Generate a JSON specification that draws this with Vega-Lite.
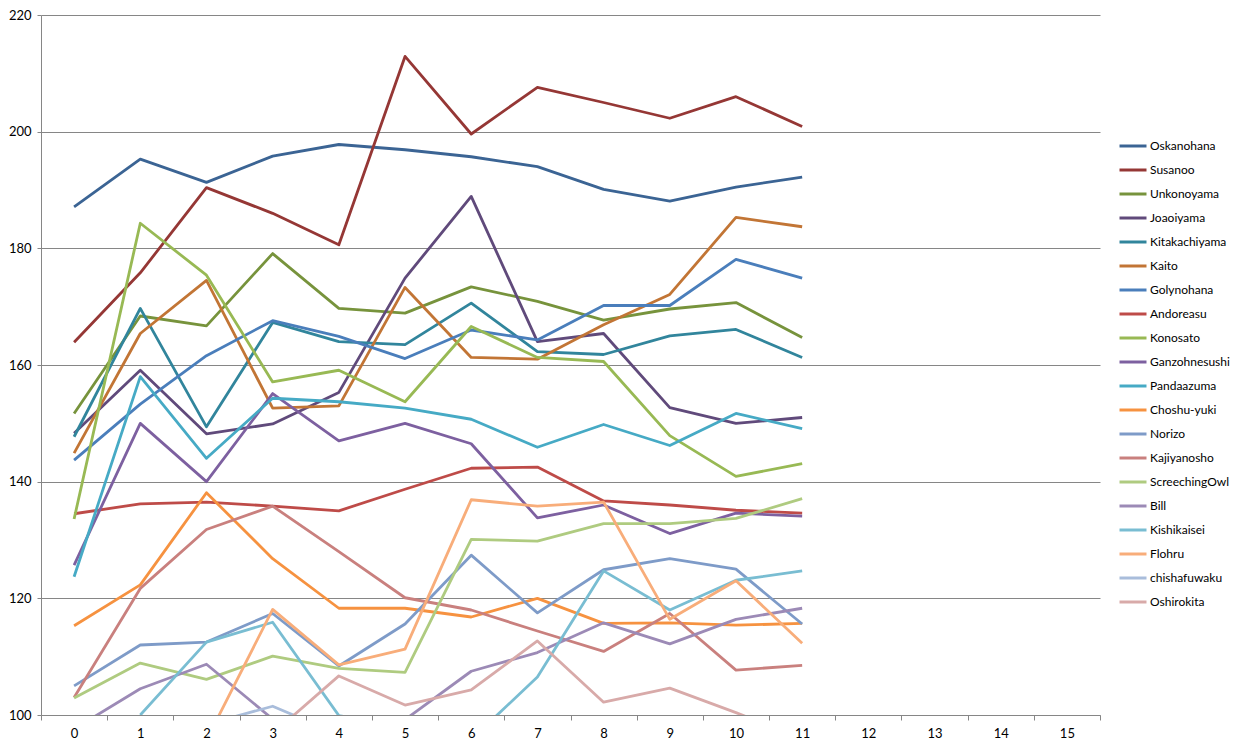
{
  "$schema": "https://vega.github.io/schema/vega-lite/v6.json",
  "width": 1059,
  "height": 700,
  "autosize": "none",
  "padding": {"left": 41, "top": 15, "right": 144, "bottom": 34},
  "background": "white",
  "config": {
    "view": {"stroke": null},
    "font": "Lato",
    "axis": {"labelFont": "Lato", "labelColor": "#000000", "labelFontSize": 13, "title": null}
  },
  "data": {
    "values": [
      {"s": "Oskanohana", "x": 0, "v": 187.1}, {"s": "Oskanohana", "x": 1, "v": 195.3}, {"s": "Oskanohana", "x": 2, "v": 191.3}, {"s": "Oskanohana", "x": 3, "v": 195.8}, {"s": "Oskanohana", "x": 4, "v": 197.8}, {"s": "Oskanohana", "x": 5, "v": 196.9}, {"s": "Oskanohana", "x": 6, "v": 195.7}, {"s": "Oskanohana", "x": 7, "v": 194.0}, {"s": "Oskanohana", "x": 8, "v": 190.1}, {"s": "Oskanohana", "x": 9, "v": 188.1}, {"s": "Oskanohana", "x": 10, "v": 190.5}, {"s": "Oskanohana", "x": 11, "v": 192.2},
      {"s": "Susanoo", "x": 0, "v": 163.9}, {"s": "Susanoo", "x": 1, "v": 175.8}, {"s": "Susanoo", "x": 2, "v": 190.4}, {"s": "Susanoo", "x": 3, "v": 186.0}, {"s": "Susanoo", "x": 4, "v": 180.6}, {"s": "Susanoo", "x": 5, "v": 212.9}, {"s": "Susanoo", "x": 6, "v": 199.6}, {"s": "Susanoo", "x": 7, "v": 207.6}, {"s": "Susanoo", "x": 8, "v": 205.0}, {"s": "Susanoo", "x": 9, "v": 202.3}, {"s": "Susanoo", "x": 10, "v": 206.0}, {"s": "Susanoo", "x": 11, "v": 200.9},
      {"s": "Unkonoyama", "x": 0, "v": 151.7}, {"s": "Unkonoyama", "x": 1, "v": 168.4}, {"s": "Unkonoyama", "x": 2, "v": 166.7}, {"s": "Unkonoyama", "x": 3, "v": 179.1}, {"s": "Unkonoyama", "x": 4, "v": 169.7}, {"s": "Unkonoyama", "x": 5, "v": 168.9}, {"s": "Unkonoyama", "x": 6, "v": 173.4}, {"s": "Unkonoyama", "x": 7, "v": 170.9}, {"s": "Unkonoyama", "x": 8, "v": 167.7}, {"s": "Unkonoyama", "x": 9, "v": 169.6}, {"s": "Unkonoyama", "x": 10, "v": 170.7}, {"s": "Unkonoyama", "x": 11, "v": 164.7},
      {"s": "Joaoiyama", "x": 0, "v": 148.3}, {"s": "Joaoiyama", "x": 1, "v": 159.1}, {"s": "Joaoiyama", "x": 2, "v": 148.2}, {"s": "Joaoiyama", "x": 3, "v": 149.9}, {"s": "Joaoiyama", "x": 4, "v": 155.3}, {"s": "Joaoiyama", "x": 5, "v": 174.9}, {"s": "Joaoiyama", "x": 6, "v": 188.9}, {"s": "Joaoiyama", "x": 7, "v": 164.0}, {"s": "Joaoiyama", "x": 8, "v": 165.4}, {"s": "Joaoiyama", "x": 9, "v": 152.7}, {"s": "Joaoiyama", "x": 10, "v": 150.0}, {"s": "Joaoiyama", "x": 11, "v": 151.0},
      {"s": "Kitakachiyama", "x": 0, "v": 147.7}, {"s": "Kitakachiyama", "x": 1, "v": 169.7}, {"s": "Kitakachiyama", "x": 2, "v": 149.4}, {"s": "Kitakachiyama", "x": 3, "v": 167.3}, {"s": "Kitakachiyama", "x": 4, "v": 164.0}, {"s": "Kitakachiyama", "x": 5, "v": 163.5}, {"s": "Kitakachiyama", "x": 6, "v": 170.6}, {"s": "Kitakachiyama", "x": 7, "v": 162.3}, {"s": "Kitakachiyama", "x": 8, "v": 161.8}, {"s": "Kitakachiyama", "x": 9, "v": 165.0}, {"s": "Kitakachiyama", "x": 10, "v": 166.1}, {"s": "Kitakachiyama", "x": 11, "v": 161.3},
      {"s": "Kaito", "x": 0, "v": 144.9}, {"s": "Kaito", "x": 1, "v": 165.4}, {"s": "Kaito", "x": 2, "v": 174.5}, {"s": "Kaito", "x": 3, "v": 152.6}, {"s": "Kaito", "x": 4, "v": 153.0}, {"s": "Kaito", "x": 5, "v": 173.3}, {"s": "Kaito", "x": 6, "v": 161.3}, {"s": "Kaito", "x": 7, "v": 161.0}, {"s": "Kaito", "x": 8, "v": 166.9}, {"s": "Kaito", "x": 9, "v": 172.1}, {"s": "Kaito", "x": 10, "v": 185.3}, {"s": "Kaito", "x": 11, "v": 183.7},
      {"s": "Golynohana", "x": 0, "v": 143.7}, {"s": "Golynohana", "x": 1, "v": 153.3}, {"s": "Golynohana", "x": 2, "v": 161.6}, {"s": "Golynohana", "x": 3, "v": 167.6}, {"s": "Golynohana", "x": 4, "v": 164.9}, {"s": "Golynohana", "x": 5, "v": 161.1}, {"s": "Golynohana", "x": 6, "v": 166.0}, {"s": "Golynohana", "x": 7, "v": 164.3}, {"s": "Golynohana", "x": 8, "v": 170.2}, {"s": "Golynohana", "x": 9, "v": 170.2}, {"s": "Golynohana", "x": 10, "v": 178.1}, {"s": "Golynohana", "x": 11, "v": 174.9},
      {"s": "Andoreasu", "x": 0, "v": 134.5}, {"s": "Andoreasu", "x": 1, "v": 136.2}, {"s": "Andoreasu", "x": 2, "v": 136.5}, {"s": "Andoreasu", "x": 3, "v": 135.8}, {"s": "Andoreasu", "x": 4, "v": 135.0}, {"s": "Andoreasu", "x": 5, "v": 138.7}, {"s": "Andoreasu", "x": 6, "v": 142.3}, {"s": "Andoreasu", "x": 7, "v": 142.5}, {"s": "Andoreasu", "x": 8, "v": 136.7}, {"s": "Andoreasu", "x": 9, "v": 136.0}, {"s": "Andoreasu", "x": 10, "v": 135.1}, {"s": "Andoreasu", "x": 11, "v": 134.6},
      {"s": "Konosato", "x": 0, "v": 133.6}, {"s": "Konosato", "x": 1, "v": 184.3}, {"s": "Konosato", "x": 2, "v": 175.4}, {"s": "Konosato", "x": 3, "v": 157.1}, {"s": "Konosato", "x": 4, "v": 159.1}, {"s": "Konosato", "x": 5, "v": 153.7}, {"s": "Konosato", "x": 6, "v": 166.6}, {"s": "Konosato", "x": 7, "v": 161.3}, {"s": "Konosato", "x": 8, "v": 160.6}, {"s": "Konosato", "x": 9, "v": 147.9}, {"s": "Konosato", "x": 10, "v": 140.9}, {"s": "Konosato", "x": 11, "v": 143.1},
      {"s": "Ganzohnesushi", "x": 0, "v": 125.7}, {"s": "Ganzohnesushi", "x": 1, "v": 150.0}, {"s": "Ganzohnesushi", "x": 2, "v": 140.0}, {"s": "Ganzohnesushi", "x": 3, "v": 155.1}, {"s": "Ganzohnesushi", "x": 4, "v": 147.0}, {"s": "Ganzohnesushi", "x": 5, "v": 150.0}, {"s": "Ganzohnesushi", "x": 6, "v": 146.5}, {"s": "Ganzohnesushi", "x": 7, "v": 133.8}, {"s": "Ganzohnesushi", "x": 8, "v": 136.0}, {"s": "Ganzohnesushi", "x": 9, "v": 131.1}, {"s": "Ganzohnesushi", "x": 10, "v": 134.6}, {"s": "Ganzohnesushi", "x": 11, "v": 134.1},
      {"s": "Pandaazuma", "x": 0, "v": 123.7}, {"s": "Pandaazuma", "x": 1, "v": 158.0}, {"s": "Pandaazuma", "x": 2, "v": 144.0}, {"s": "Pandaazuma", "x": 3, "v": 154.3}, {"s": "Pandaazuma", "x": 4, "v": 153.7}, {"s": "Pandaazuma", "x": 5, "v": 152.6}, {"s": "Pandaazuma", "x": 6, "v": 150.7}, {"s": "Pandaazuma", "x": 7, "v": 145.9}, {"s": "Pandaazuma", "x": 8, "v": 149.8}, {"s": "Pandaazuma", "x": 9, "v": 146.2}, {"s": "Pandaazuma", "x": 10, "v": 151.7}, {"s": "Pandaazuma", "x": 11, "v": 149.1},
      {"s": "Choshu-yuki", "x": 0, "v": 115.3}, {"s": "Choshu-yuki", "x": 1, "v": 122.3}, {"s": "Choshu-yuki", "x": 2, "v": 138.1}, {"s": "Choshu-yuki", "x": 3, "v": 126.8}, {"s": "Choshu-yuki", "x": 4, "v": 118.3}, {"s": "Choshu-yuki", "x": 5, "v": 118.3}, {"s": "Choshu-yuki", "x": 6, "v": 116.8}, {"s": "Choshu-yuki", "x": 7, "v": 120.0}, {"s": "Choshu-yuki", "x": 8, "v": 115.7}, {"s": "Choshu-yuki", "x": 9, "v": 115.8}, {"s": "Choshu-yuki", "x": 10, "v": 115.4}, {"s": "Choshu-yuki", "x": 11, "v": 115.7},
      {"s": "Norizo", "x": 0, "v": 105.0}, {"s": "Norizo", "x": 1, "v": 112.0}, {"s": "Norizo", "x": 2, "v": 112.5}, {"s": "Norizo", "x": 3, "v": 117.4}, {"s": "Norizo", "x": 4, "v": 108.4}, {"s": "Norizo", "x": 5, "v": 115.6}, {"s": "Norizo", "x": 6, "v": 127.4}, {"s": "Norizo", "x": 7, "v": 117.5}, {"s": "Norizo", "x": 8, "v": 124.9}, {"s": "Norizo", "x": 9, "v": 126.8}, {"s": "Norizo", "x": 10, "v": 125.0}, {"s": "Norizo", "x": 11, "v": 115.6},
      {"s": "Kajiyanosho", "x": 0, "v": 103.0}, {"s": "Kajiyanosho", "x": 1, "v": 121.7}, {"s": "Kajiyanosho", "x": 2, "v": 131.8}, {"s": "Kajiyanosho", "x": 3, "v": 135.8}, {"s": "Kajiyanosho", "x": 4, "v": 128.0}, {"s": "Kajiyanosho", "x": 5, "v": 120.1}, {"s": "Kajiyanosho", "x": 6, "v": 118.0}, {"s": "Kajiyanosho", "x": 7, "v": 114.4}, {"s": "Kajiyanosho", "x": 8, "v": 110.9}, {"s": "Kajiyanosho", "x": 9, "v": 117.4}, {"s": "Kajiyanosho", "x": 10, "v": 107.7}, {"s": "Kajiyanosho", "x": 11, "v": 108.5},
      {"s": "ScreechingOwl", "x": 0, "v": 102.9}, {"s": "ScreechingOwl", "x": 1, "v": 108.9}, {"s": "ScreechingOwl", "x": 2, "v": 106.1}, {"s": "ScreechingOwl", "x": 3, "v": 110.1}, {"s": "ScreechingOwl", "x": 4, "v": 108.0}, {"s": "ScreechingOwl", "x": 5, "v": 107.3}, {"s": "ScreechingOwl", "x": 6, "v": 130.1}, {"s": "ScreechingOwl", "x": 7, "v": 129.8}, {"s": "ScreechingOwl", "x": 8, "v": 132.8}, {"s": "ScreechingOwl", "x": 9, "v": 132.8}, {"s": "ScreechingOwl", "x": 10, "v": 133.7}, {"s": "ScreechingOwl", "x": 11, "v": 137.1},
      {"s": "Bill", "x": 0, "v": 97.6}, {"s": "Bill", "x": 1, "v": 104.5}, {"s": "Bill", "x": 2, "v": 108.7}, {"s": "Bill", "x": 3, "v": 99.3}, {"s": "Bill", "x": 5, "v": 99.2}, {"s": "Bill", "x": 6, "v": 107.5}, {"s": "Bill", "x": 7, "v": 110.7}, {"s": "Bill", "x": 8, "v": 115.8}, {"s": "Bill", "x": 9, "v": 112.2}, {"s": "Bill", "x": 10, "v": 116.4}, {"s": "Bill", "x": 11, "v": 118.3},
      {"s": "Kishikaisei", "x": 1, "v": 100.0}, {"s": "Kishikaisei", "x": 2, "v": 112.5}, {"s": "Kishikaisei", "x": 3, "v": 115.9}, {"s": "Kishikaisei", "x": 4, "v": 99.9}, {"s": "Kishikaisei", "x": 6, "v": 95.8}, {"s": "Kishikaisei", "x": 7, "v": 106.5}, {"s": "Kishikaisei", "x": 8, "v": 124.7}, {"s": "Kishikaisei", "x": 9, "v": 118.0}, {"s": "Kishikaisei", "x": 10, "v": 123.1}, {"s": "Kishikaisei", "x": 11, "v": 124.7},
      {"s": "Flohru", "x": 2, "v": 95.7}, {"s": "Flohru", "x": 3, "v": 118.1}, {"s": "Flohru", "x": 4, "v": 108.6}, {"s": "Flohru", "x": 5, "v": 111.3}, {"s": "Flohru", "x": 6, "v": 136.9}, {"s": "Flohru", "x": 7, "v": 135.8}, {"s": "Flohru", "x": 8, "v": 136.5}, {"s": "Flohru", "x": 9, "v": 116.4}, {"s": "Flohru", "x": 10, "v": 123.0}, {"s": "Flohru", "x": 11, "v": 112.3},
      {"s": "chishafuwaku", "x": 2, "v": 98.4}, {"s": "chishafuwaku", "x": 3, "v": 101.5}, {"s": "chishafuwaku", "x": 4, "v": 96.7},
      {"s": "Oshirokita", "x": 3, "v": 96.8}, {"s": "Oshirokita", "x": 4, "v": 106.7}, {"s": "Oshirokita", "x": 5, "v": 101.7}, {"s": "Oshirokita", "x": 6, "v": 104.3}, {"s": "Oshirokita", "x": 7, "v": 112.7}, {"s": "Oshirokita", "x": 8, "v": 102.2}, {"s": "Oshirokita", "x": 9, "v": 104.6}, {"s": "Oshirokita", "x": 10, "v": 100.4}, {"s": "Oshirokita", "x": 11, "v": 96.0}
    ]
  },
  "mark": {"type": "line", "strokeWidth": 2.8, "clip": true, "strokeJoin": "round"},
  "encoding": {
    "x": {
      "field": "x", "type": "ordinal",
      "scale": {"type": "band", "domain": [0, 1, 2, 3, 4, 5, 6, 7, 8, 9, 10, 11, 12, 13, 14, 15], "paddingInner": 0, "paddingOuter": 0},
      "axis": {"labelAngle": 0, "tickBand": "extent", "tickSize": 5, "tickColor": "#868686", "domainColor": "#868686", "grid": false, "labelPadding": 7}
    },
    "y": {
      "field": "v", "type": "quantitative",
      "scale": {"domain": [100, 220], "nice": false, "zero": false},
      "axis": {"values": [100, 120, 140, 160, 180, 200, 220], "grid": true, "gridColor": "#868686", "gridWidth": 1, "gridOpacity": 1, "tickSize": 4, "tickColor": "#868686", "domainColor": "#868686", "labelPadding": 6}
    },
    "color": {
      "field": "s", "type": "nominal",
      "scale": {
        "domain": ["Oskanohana", "Susanoo", "Unkonoyama", "Joaoiyama", "Kitakachiyama", "Kaito", "Golynohana", "Andoreasu", "Konosato", "Ganzohnesushi", "Pandaazuma", "Choshu-yuki", "Norizo", "Kajiyanosho", "ScreechingOwl", "Bill", "Kishikaisei", "Flohru", "chishafuwaku", "Oshirokita"],
        "range": ["#3B6494", "#953735", "#77933C", "#604A7B", "#31859C", "#C27535", "#4A7EBB", "#BE4B48", "#98B954", "#7D60A0", "#46AAC5", "#F69240", "#7E9BC8", "#C9807E", "#AFCB80", "#9C8AB6", "#79BDD2", "#F8AD7A", "#A9BDDB", "#D8AAA9"]
      },
      "legend": {
        "title": null, "orient": "none", "legendX": 1077, "legendY": 116,
        "symbolType": "stroke", "symbolSize": 729, "symbolStrokeWidth": 3,
        "labelFont": "Lato", "labelFontSize": 12, "labelColor": "#000000", "rowPadding": 3, "labelOffset": 2
      }
    }
  }
}
